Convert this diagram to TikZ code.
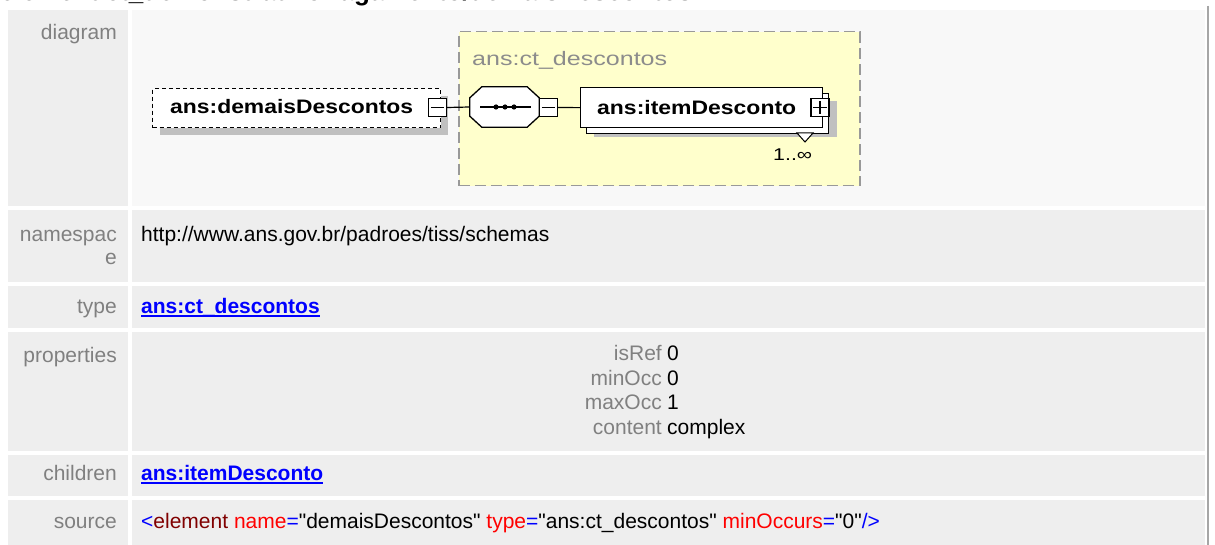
\documentclass[tikz,border=0pt]{standalone}
\usepackage{fontspec}
\setmainfont{Liberation Sans}[Ligatures=TeXOff]
\usepackage{graphicx}
\usetikzlibrary{calc}
\definecolor{cellgray}{HTML}{EEEEEE}
\definecolor{diagcell}{HTML}{F8F8F8}
\definecolor{lblgray}{HTML}{808080}
\definecolor{shadowgray}{HTML}{C0C0C0}
\definecolor{ctyellow}{HTML}{FFFFCC}
\definecolor{ctborder}{HTML}{999999}
\definecolor{cttext}{HTML}{8C8C8C}
\definecolor{linkblue}{HTML}{0000FF}
\definecolor{xmlred}{HTML}{FF0000}
\definecolor{xmldark}{HTML}{800000}
\newcommand\tfont{\fontsize{21}{24.5}\selectfont}
\newcommand\dfont{\fontsize{19.5}{22}\selectfont}
\newcommand\wfit[2]{\resizebox{#1pt}{\height}{#2}}
\begin{document}
\begin{tikzpicture}[x=1pt,y=-1pt,
 lbl/.style={anchor=base east,inner sep=0,text=lblgray,font=\tfont},
 val/.style={anchor=base west,inner sep=0,font=\tfont},
 link/.style={anchor=base west,inner sep=0,text=linkblue,font=\tfont\bfseries},
 elbox/.style={draw=black,fill=white,line width=1.3pt,inner sep=0,anchor=north west},
 sqbtn/.style={draw=black,fill=white,line width=1.1pt,minimum size=18pt,inner sep=0},
 conn/.style={line width=1.2pt},
 dtext/.style={anchor=base west,inner sep=0,font=\dfont\bfseries},
]
\useasboundingbox (0,0) rectangle (1215,545);
\fill[white] (0,0) rectangle (1215,545);
% title (cut off at the top)
\begin{scope}
\clip (0,0) rectangle (1215,8);
\node[anchor=base west,inner sep=0,font=\fontsize{26}{30}\selectfont\bfseries] (title) at (0,0.8) {element ct\_demonstrativoPagamento/demaisDescontos};
\end{scope}
% table cells
\fill[cellgray] (8,10) rectangle (128,206);
\fill[diagcell] (132,10) rectangle (1205,206);
\fill[cellgray] (8,210) rectangle (128,282);
\fill[cellgray] (132,210) rectangle (1205,282);
\fill[cellgray] (8,286) rectangle (128,328);
\fill[cellgray] (132,286) rectangle (1205,328);
\fill[cellgray] (8,332) rectangle (128,451);
\fill[cellgray] (132,332) rectangle (1205,451);
\fill[cellgray] (8,455) rectangle (128,496);
\fill[cellgray] (132,455) rectangle (1205,496);
\fill[cellgray] (8,500) rectangle (128,545);
\fill[cellgray] (132,500) rectangle (1205,545);
\draw[gray!70,line width=2pt] (1208,6) -- (1208,545);
% labels
\node[lbl] (ldiag) at (117,40) {diagram};
\node[lbl] (lns) at (117,242) {namespac};
\node[lbl] (lns2) at (117,265) {e};
\node[val] (vns) at (141,242) {http://www.ans.gov.br/padroes/tiss/schemas};
\node[lbl] (ltype) at (117,313) {type};
\node[link] (vtype) at (141,313) {ans:ct\_descontos};
\draw[linkblue,line width=1.6pt] ($(vtype.base west)+(0,3)$) -- ($(vtype.base east)+(0,3)$);
\node[lbl] (lprop) at (117,362) {properties};
\node[lbl] (p1) at (662,360) {isRef};
\node[val] (p1v) at (667,360) {0};
\node[lbl] (p2) at (662,385) {minOcc};
\node[val] (p2v) at (667,385) {0};
\node[lbl] (p3) at (662,409) {maxOcc};
\node[val] (p3v) at (667,409) {1};
\node[lbl] (p4) at (662,434) {content};
\node[val] (p4v) at (667,434) {complex};
\node[lbl] (lchild) at (117,480) {children};
\node[link] (vchild) at (141,480) {ans:itemDesconto};
\draw[linkblue,line width=1.6pt] ($(vchild.base west)+(0,3)$) -- ($(vchild.base east)+(0,3)$);
\node[lbl] (lsrc) at (117,528) {source};
\node[val] (vsrc) at (141,528) {\textcolor{linkblue}{<}\textcolor{xmldark}{element} \textcolor{xmlred}{name}\textcolor{linkblue}{=}"demaisDescontos" \textcolor{xmlred}{type}\textcolor{linkblue}{=}"ans:ct\_descontos" \textcolor{xmlred}{minOccurs}\textcolor{linkblue}{=}"0"\textcolor{linkblue}{/>}};
% ---- diagram ----
% complex type box
\node[draw=ctborder,fill=ctyellow,line width=1.5pt,dash pattern=on 11pt off 5pt,inner sep=0,minimum width=401pt,minimum height=154pt,anchor=north west] (ct) at (458,31) {};
\node[anchor=base west,inner sep=0,text=cttext,font=\dfont] (ctT) at (472,66) {\wfit{195}{ans:ct\_descontos}};
% demaisDescontos element
\fill[shadowgray] (160,96) rectangle (448,135);
\node[elbox,dash pattern=on 4pt off 3pt,minimum width=288pt,minimum height=39pt] (demais) at (152,88) {};
\node[dtext] (demaisT) at (170,114) {\wfit{243}{ans:demaisDescontos}};
\node[sqbtn] (dmin) at (437.5,107.5) {};
\draw[line width=1.1pt] ($(dmin.west)+(3,0)$) -- ($(dmin.east)+(-3,0)$);
% sequence compositor
\node[inner sep=0,minimum width=69pt,minimum height=40pt] (seq) at (504.5,107) {};
\fill[shadowgray,shift={(8,8)}] ($(seq.north west)+(12,0)$) -- ($(seq.north east)+(-12,0)$) -- ($(seq.north east)+(0,11)$) -- ($(seq.south east)+(0,-11)$) -- ($(seq.south east)+(-12,0)$) -- ($(seq.south west)+(12,0)$) -- ($(seq.south west)+(0,-11)$) -- ($(seq.north west)+(0,11)$) -- cycle;
\draw[line width=1.3pt,fill=white] ($(seq.north west)+(12,0)$) -- ($(seq.north east)+(-12,0)$) -- ($(seq.north east)+(0,11)$) -- ($(seq.south east)+(0,-11)$) -- ($(seq.south east)+(-12,0)$) -- ($(seq.south west)+(12,0)$) -- ($(seq.south west)+(0,-11)$) -- ($(seq.north west)+(0,11)$) -- cycle;
\draw[line width=1.2pt] (480,107) -- (531,107);
\fill (496,107) circle[radius=2.6pt];
\fill (505,107) circle[radius=2.6pt];
\fill (514,107) circle[radius=2.6pt];
\node[sqbtn] (smin) at (548.5,107.5) {};
\draw[line width=1.1pt] ($(smin.west)+(3,0)$) -- ($(smin.east)+(-3,0)$);
% itemDesconto element (multiple)
\fill[shadowgray] (594,101) rectangle (837,137);
\node[elbox,minimum width=242pt,minimum height=40pt] (itemback) at (586,93) {};
\node[elbox,minimum width=242pt,minimum height=40pt] (item) at (580,87) {};
\node[dtext] (itemT) at (597,115) {\wfit{199}{ans:itemDesconto}};
\node[sqbtn] (iplus) at (820,107.5) {};
\draw[line width=1.1pt] ($(iplus.west)+(3,0)$) -- ($(iplus.east)+(-3,0)$);
\draw[line width=1.1pt] ($(iplus.north)+(0,3)$) -- ($(iplus.south)+(0,-3)$);
\draw[fill=white,line width=1pt] (797,133) -- (813,133) -- (805,142) -- cycle;
\node[anchor=base west,inner sep=0,font=\fontsize{17}{20}\selectfont] (occ) at (773,161) {\wfit{39}{1..∞}};
% connectors
\draw[conn] (dmin.east) -- (seq.west);
\draw[conn] (smin.east) -- (item.west);
\end{tikzpicture}
\end{document}
